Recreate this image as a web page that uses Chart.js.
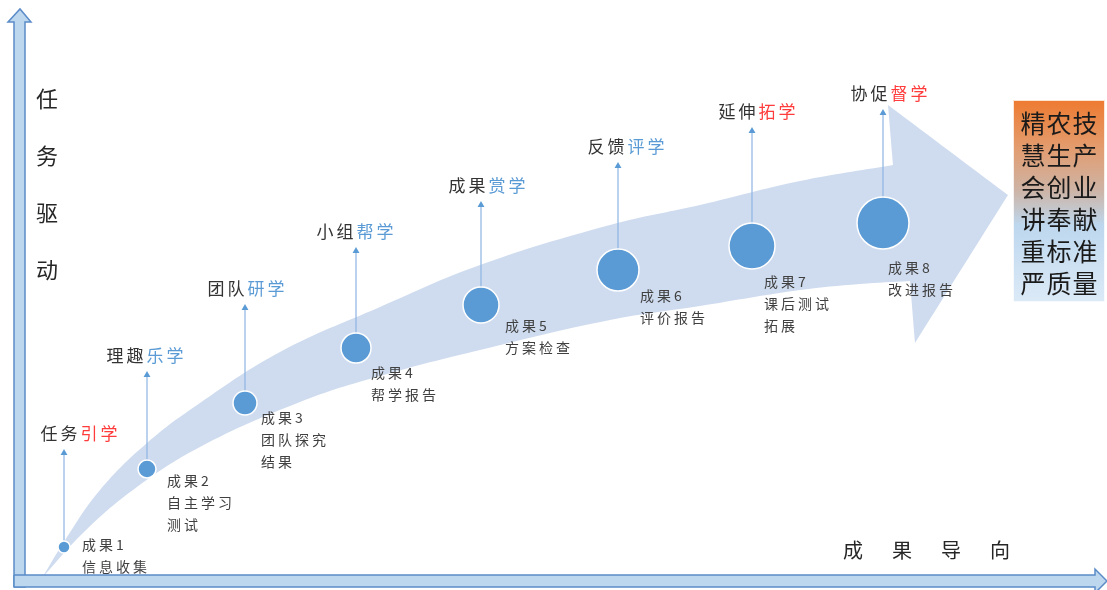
<!DOCTYPE html>
<html>
<head>
<meta charset="utf-8">
<script src="https://cdn.jsdelivr.net/npm/chart.js@4"></script>
<style>
  html, body { margin: 0; padding: 0; background: #fff; }
  #diagram { display: block; }
</style>
</head>
<body>
<canvas id="diagram" width="1107" height="590"></canvas>
<script>
// diagram units = the 1107 x 590 drawing, y grows downwards
const resultNames = ['成果1', '成果2', '成果3', '成果4', '成果5', '成果6', '成果7', '成果8'];
const resultDetails = [['信息收集'], ['自主学习', '测试'], ['团队探究', '结果'], ['帮学报告'],
                       ['方案检查'], ['评价报告'], ['课后测试', '拓展'], ['改进报告']];
const resultX = [64, 147, 245, 356, 481, 618, 752, 883];
const resultY = [547, 469, 403, 348, 305, 270, 246, 223];
const resultSize = [6, 9, 12, 15, 18, 21, 23, 26];

const stagePrefix = ['任务', '理趣', '团队', '小组', '成果', '反馈', '延伸', '协促'];
const stageSuffix = ['引学', '乐学', '研学', '帮学', '赏学', '评学', '拓学', '督学'];
const stageTipY = [450, 372, 305, 248, 202, 163, 128, 110];

const outcomeLines = ['精农技', '慧生产', '会创业', '讲奉献', '重标准', '严质量'];
const axisYLabel = '任务驱动';
const axisXLabel = '成果导向';

// outline of the big curved arrow: upper edge, head, lower edge
const bandUpper = [[42, 578], [67, 537], [100, 490], [147, 443], [200, 403], [280, 352],
                   [380, 307], [480, 265], [610, 225], [700, 205], [800, 181], [893, 165]];
const bandHead = [[888, 105], [1008, 195], [915, 343], [910, 281]];
const bandLower = [[860, 284], [800, 290], [700, 306], [610, 320], [480, 350], [380, 376],
                   [300, 402], [200, 447], [133, 490], [83, 533], [42, 578]];

const yAxisShape = [[14, 587], [14, 22], [8, 22], [20, 9], [31, 22], [25, 22], [25, 587], [14, 587]];
const xAxisShape = [[14, 575], [1095, 575], [1095, 569], [1107, 581], [1095, 593], [1095, 587], [14, 587], [14, 575]];

// layout of the texts
const stageLabelX = [79, 145, 246, 355, 487, 626, 757, 889];
const stageEmphasis = [true, false, false, false, false, false, true, true];
const resultTextX = [82, 167, 261, 371, 505, 640, 764, 888];
const resultTextY = [545, 481, 418, 373, 326, 296, 282, 268];

const CJK = '"Noto Sans CJK SC", "Noto Sans", sans-serif';
const toPts = arr => arr.map(p => ({ x: p[0], y: p[1] }));
// repeat a corner so the smoothed outline keeps it sharp
const sharp = p => [p, p];

const shapeDs = (pts, fillColor, border, width, order, tension) => ({
  data: toPts(pts),
  showLine: true,
  fill: 'shape',
  backgroundColor: fillColor,
  borderColor: border,
  borderWidth: width,
  pointRadius: 0,
  tension: tension,
  clip: false,
  order: order
});

const bandOutline = [].concat(
  sharp(bandUpper[0]), bandUpper.slice(1, -1), sharp(bandUpper[bandUpper.length - 1]),
  ...bandHead.map(sharp),
  bandLower.slice(0, -1), sharp(bandLower[bandLower.length - 1])
);

const datasets = [];
datasets.push(shapeDs(bandOutline, 'rgb(207,220,239)', 'rgba(0,0,0,0)', 0, 10, 0.4));
datasets.push(shapeDs(yAxisShape, '#BDD7EE', '#5B8CC8', 1.5, 9, 0));
datasets.push(shapeDs(xAxisShape, '#BDD7EE', '#5B8CC8', 1.5, 8, 0));

resultX.forEach((rx, i) => {
  datasets.push({
    data: [{ x: rx, y: resultY[i] - resultSize[i] }, { x: rx, y: stageTipY[i] + 5 }],
    showLine: true,
    borderColor: '#8DB4E2',
    borderWidth: 1.2,
    pointRadius: 0,
    order: 5
  });
});
datasets.push({
  data: resultX.map((rx, i) => ({ x: rx, y: stageTipY[i] + 3 })),
  pointStyle: 'triangle',
  pointRadius: 4,
  backgroundColor: '#5B9BD5',
  borderColor: '#5B9BD5',
  borderWidth: 0,
  order: 4
});
datasets.push({
  data: resultX.map((rx, i) => ({ x: rx, y: resultY[i] })),
  pointRadius: resultSize,
  backgroundColor: '#5B9BD5',
  borderColor: '#ffffff',
  borderWidth: 1.5,
  clip: false,
  order: 1
});

function spacedText(ctx, str, px, py, spacing, align) {
  const widths = [...str].map(ch => ctx.measureText(ch).width);
  const total = widths.reduce((a, b) => a + b, 0) + spacing * (widths.length - 1);
  let cx = align === 'center' ? px - total / 2 : px;
  [...str].forEach((ch, k) => {
    ctx.fillText(ch, cx, py);
    cx += widths[k] + spacing;
  });
  return cx;
}

const textPlugin = {
  id: 'diagramText',
  afterDatasetsDraw(chart) {
    const { ctx, scales: { x, y } } = chart;
    ctx.save();
    ctx.textBaseline = 'middle';
    ctx.textAlign = 'left';

    // outcome box
    const bx0 = x.getPixelForValue(1013), bx1 = x.getPixelForValue(1105);
    const by0 = y.getPixelForValue(100), by1 = y.getPixelForValue(302);
    const grad = ctx.createLinearGradient(0, by0, 0, by1);
    grad.addColorStop(0, '#EE7A30');
    grad.addColorStop(0.22, '#E49A6A');
    grad.addColorStop(0.45, '#CDB4A6');
    grad.addColorStop(0.62, '#BDD7EE');
    grad.addColorStop(1, '#DCEAF7');
    ctx.fillStyle = grad;
    ctx.fillRect(bx0, by0, bx1 - bx0, by1 - by0);
    ctx.strokeStyle = 'rgba(255,255,255,0.8)';
    ctx.lineWidth = 1;
    ctx.strokeRect(bx0 + 0.5, by0 + 0.5, bx1 - bx0 - 1, by1 - by0 - 1);
    ctx.fillStyle = '#1a1a1a';
    ctx.font = '25px ' + CJK;
    outcomeLines.forEach((line, i) => {
      spacedText(ctx, line, (bx0 + bx1) / 2, y.getPixelForValue(123 + i * 32), 1, 'center');
    });

    // axis titles
    ctx.fillStyle = '#262626';
    ctx.font = '22px ' + CJK;
    ctx.textAlign = 'center';
    [...axisYLabel].forEach((ch, i) => {
      ctx.fillText(ch, x.getPixelForValue(47), y.getPixelForValue(99 + i * 57));
    });
    ctx.font = '20px ' + CJK;
    [...axisXLabel].forEach((ch, i) => {
      ctx.fillText(ch, x.getPixelForValue(853 + i * 49), y.getPixelForValue(550));
    });
    ctx.textAlign = 'left';

    // stage labels above the arrows
    ctx.font = '17px ' + CJK;
    stagePrefix.forEach((pre, i) => {
      const full = pre + stageSuffix[i];
      const widths = [...full].map(ch => ctx.measureText(ch).width);
      const total = widths.reduce((a, b) => a + b, 0) + 3 * (widths.length - 1);
      const sx = x.getPixelForValue(stageLabelX[i]) - total / 2;
      const sy = y.getPixelForValue(stageTipY[i] - 16);
      ctx.fillStyle = '#333333';
      const nx = spacedText(ctx, pre, sx, sy, 3, 'left');
      ctx.fillStyle = stageEmphasis[i] ? '#FF3B3B' : '#5B9BD5';
      spacedText(ctx, stageSuffix[i], nx, sy, 3, 'left');
    });

    // result captions
    ctx.font = '14px ' + CJK;
    ctx.fillStyle = '#404040';
    resultNames.forEach((name, i) => {
      const tx = x.getPixelForValue(resultTextX[i]);
      const lines = [name].concat(resultDetails[i]);
      lines.forEach((line, k) => {
        spacedText(ctx, line, tx, y.getPixelForValue(resultTextY[i] + k * 22), 3, 'left');
      });
    });
    ctx.restore();
  }
};

new Chart(document.getElementById('diagram'), {
  type: 'scatter',
  data: { datasets: datasets },
  options: {
    responsive: false,
    animation: false,
    events: [],
    layout: { padding: 0, autoPadding: false },
    plugins: { legend: { display: false }, tooltip: { enabled: false } },
    scales: {
      x: { type: 'linear', min: 0, max: 1107, display: false },
      y: { type: 'linear', min: 0, max: 590, reverse: true, display: false }
    }
  },
  plugins: [textPlugin]
});
</script>
</body>
</html>
